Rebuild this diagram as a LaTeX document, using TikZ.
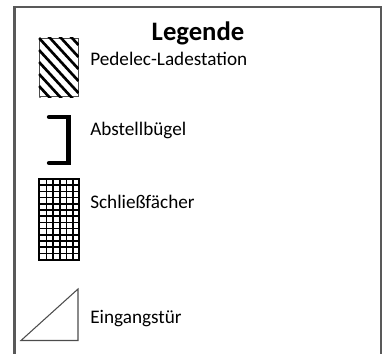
\documentclass[tikz,border=0pt]{standalone}
\usepackage{fontspec}
\setmainfont{Carlito}
\usetikzlibrary{positioning}
\begin{document}
\begin{tikzpicture}[x=0.75pt,y=-0.75pt]
\tikzstyle{t}=[inner sep=0pt,anchor=base west,font=\fontsize{14.4pt}{16pt}\selectfont]
\tikzstyle{box}=[draw=black!70,line width=0.75pt,minimum width=29.5pt,inner sep=0pt]
\useasboundingbox (0,0) rectangle (387,354);
\draw[black!65,line width=1.8pt] (14.5,354) -- (14.5,7) -- (381,7) -- (381,354);
\node[font=\fontsize{20pt}{22pt}\selectfont\bfseries,inner sep=0pt,anchor=base] (titel) at (198,40) {Legende};
% Pedelec-Ladestation
\node[box,minimum height=44pt] (lade) at (58.75,67.5) {};
\begin{scope}
\clip (lade.south west) rectangle (lade.north east);
\foreach \d in {-36,-24,-12,0,12,24,36,48,60} \draw[line width=2pt] (39,38+\d) -- (78.5,81+\d);
\end{scope}
\node[t] (ladetext) at (90,65) {Pedelec-Ladestation};
% Abstellbuegel
\coordinate (b1) at (49,117); \coordinate (b2) at (68.5,117); \coordinate (b3) at (68.5,163); \coordinate (b4) at (49,163);
\draw[line width=3.2pt,line cap=round] (b1) -- (b2) -- (b3) -- (b4);
\node[t] (buegeltext) at (90,135) {Abstellbügel};
% Schliessfaecher
\node[box,minimum height=60pt] (fach) at (58.75,219) {};
\foreach \x in {46.5,53.2,59.9,66.6,73.3} \draw[line width=1.3pt] (\x,179) -- (\x,259);
\foreach \y in {185.2,191.4,197.6,203.8,210,216.2,222.4,228.6,234.8,241,247.2,253.4} \draw[line width=1.3pt] (39,\y) -- (78.5,\y);
\draw[line width=1.5pt] (fach.south west) rectangle (fach.north east);
\node[t] (fachtext) at (90,208) {Schließfächer};
% Eingangstuer
\coordinate (e1) at (21,340.5); \coordinate (e2) at (78,289); \coordinate (e3) at (78,340.5);
\draw[black!70,line width=0.8pt] (e1) -- (e2) -- (e3) -- cycle;
\node[t] (tuertext) at (90,323) {Eingangstür};
\end{tikzpicture}
\end{document}
